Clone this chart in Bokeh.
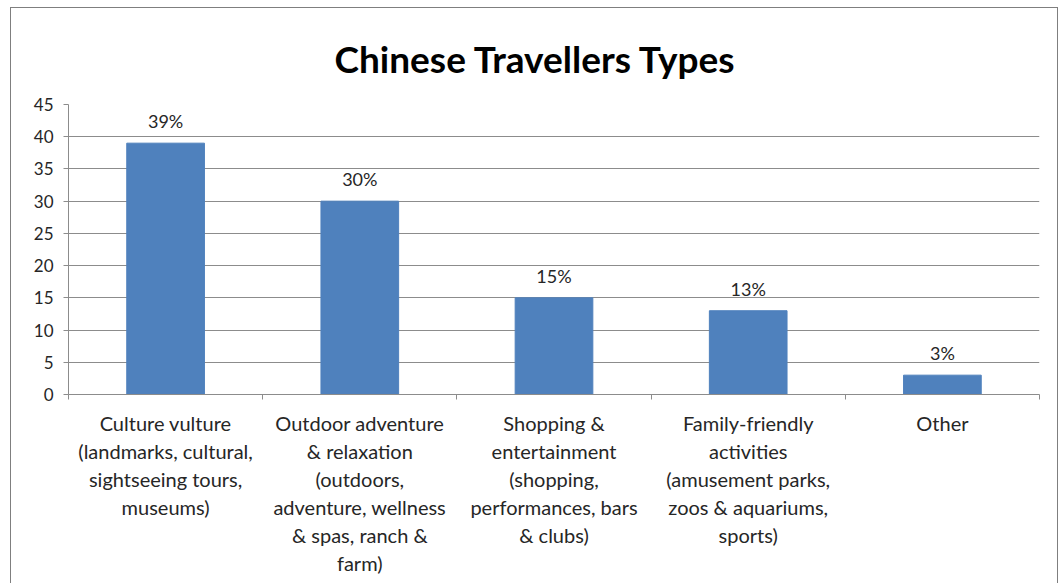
from bokeh.plotting import figure
from bokeh.models import FixedTicker, ColumnDataSource, Range1d, LabelSet
from bokeh.core.properties import value
from bokeh.embed import file_html
from bokeh.resources import INLINE

title_text = "Chinese Travellers Types"
categories = [
    "Culture vulture\n(landmarks, cultural,\nsightseeing tours,\nmuseums)",
    "Outdoor adventure\n& relaxation\n(outdoors,\nadventure, wellness\n& spas, ranch &\nfarm)",
    "Shopping &\nentertainment\n(shopping,\nperformances, bars\n& clubs)",
    "Family-friendly\nactivities\n(amusement parks,\nzoos & aquariums,\nsports)",
    "Other",
]
values = [39, 30, 15, 13, 3]
y_ticks = [0, 5, 10, 15, 20, 25, 30, 35, 40, 45]

FONT = "Lato"
TXT = "#262626"
GRID = "#8c8c8c"
x_pos = list(range(len(categories)))
src = ColumnDataSource(dict(x=x_pos, top=values, lab=[f"{v}%" for v in values]))

p = figure(width=1048, height=576, output_backend="svg", toolbar_location=None,
           x_range=Range1d(-0.5, len(categories) - 0.5), y_range=Range1d(0, 45),
           min_border_left=57, min_border_right=20, min_border_top=96, min_border_bottom=190)
p.styles = {"margin-left": "10px", "margin-top": "7px",
            "border-top": "1px solid #7f7f7f", "border-left": "1px solid #7f7f7f",
            "border-right": "1px solid #7f7f7f", "box-sizing": "border-box"}

p.title.text = title_text
p.title.text_font = FONT
p.title.text_font_size = "37px"
p.title.text_font_style = "bold"
p.title.text_color = "#000000"
p.title.align = "left"
p.title.offset = 266
p.title.standoff = 47

p.vbar(x="x", top="top", width=0.4, source=src, fill_color="#4F81BD", line_color="#4F81BD")
p.add_layout(LabelSet(x="x", y="top", text="lab", source=src, text_align="center",
                      text_baseline="bottom", y_offset=11, text_font=value(FONT),
                      text_font_size="18px", text_color=TXT))

p.outline_line_color = None
p.xgrid.grid_line_color = None
p.ygrid.grid_line_color = GRID
p.ygrid.grid_line_width = 1

p.yaxis.ticker = FixedTicker(ticks=y_ticks)
p.yaxis.axis_line_color = GRID
p.yaxis.major_tick_line_color = GRID
p.yaxis.major_tick_out = 5
p.yaxis.major_tick_in = 0
p.yaxis.minor_tick_line_color = None
p.yaxis.major_label_text_font = FONT
p.yaxis.major_label_text_font_size = "17px"
p.yaxis.major_label_text_color = TXT
p.yaxis.major_label_standoff = 10

p.xaxis.ticker = FixedTicker(ticks=x_pos, minor_ticks=[i - 0.5 for i in range(len(categories) + 1)])
p.xaxis.major_label_overrides = {i: c for i, c in enumerate(categories)}
p.xaxis.axis_line_color = GRID
p.xaxis.major_tick_line_color = None
p.xaxis.major_tick_out = 0
p.xaxis.minor_tick_line_color = GRID
p.xaxis.minor_tick_out = 5
p.xaxis.minor_tick_in = 0
p.xaxis.major_label_text_font = FONT
p.xaxis.major_label_text_font_size = "20px"
p.xaxis.major_label_text_color = TXT
p.xaxis.major_label_text_line_height = 1.17
p.xaxis.major_label_standoff = 11

open("out.html", "w").write(file_html(p, INLINE))
